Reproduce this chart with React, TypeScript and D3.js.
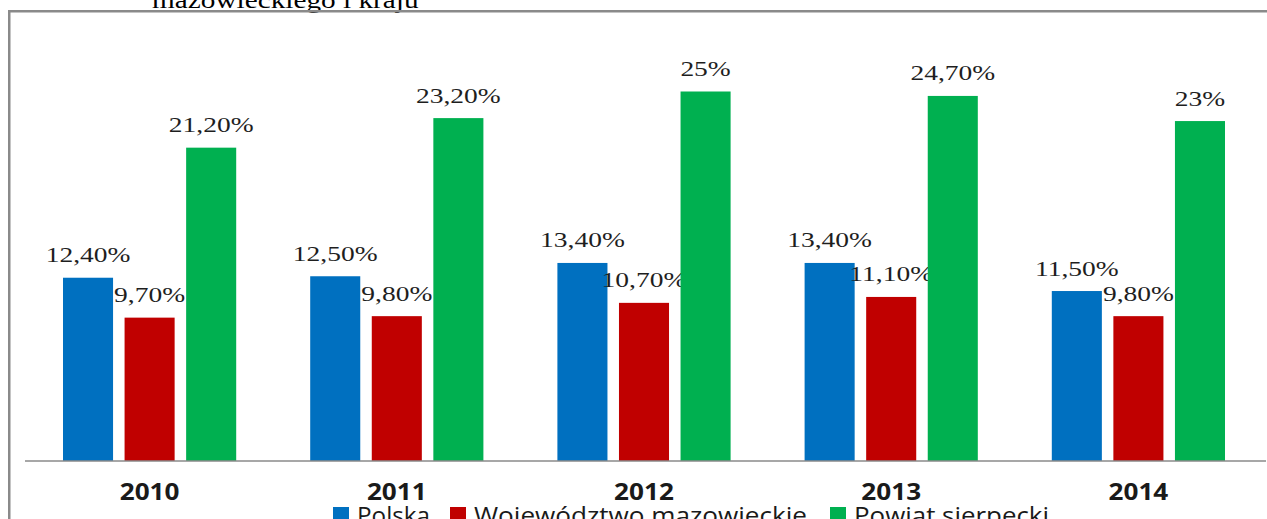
import React from "react";
import * as d3 from "d3";

const years = ["2010", "2011", "2012", "2013", "2014"];
const seriesNames = ["Polska", "Województwo mazowieckie", "Powiat sierpecki"];
const polska = [12.4, 12.5, 13.4, 13.4, 11.5];
const mazowieckie = [9.7, 9.8, 10.7, 11.1, 9.8];
const sierpecki = [21.2, 23.2, 25, 24.7, 23];
const colors = ["#0070C0", "#C00000", "#00B050"];
const titleLine = "mazowieckiego i kraju";

const W = 1267;
const H = 519;

function fmt(v: number): string {
  if (v % 1 === 0) return `${v}%`;
  return v.toFixed(2).replace(".", ",") + "%";
}

const serif = "'Liberation Serif', 'Times New Roman', serif";
const sans = "'Open Sans', sans-serif";

// legend layout (square x, text length)
const legendLayout = [
  { sx: 333, len: 73 },
  { sx: 450, len: 333 },
  { sx: 830, len: 195 },
];

export default function App() {
  const seriesVals = [polska, mazowieckie, sierpecki];
  const x0 = d3.scaleBand<string>().domain(years).range([26, 1262]).paddingInner(0).paddingOuter(0);
  const x1 = d3
    .scaleBand<number>()
    .domain([0, 1, 2])
    .range([37, x0.bandwidth() - 37])
    .paddingInner(0.187)
    .paddingOuter(0);
  const y = d3.scaleLinear().domain([0, 25]).range([461, 91.5]);
  const stretch = 1.09;

  return (
    <svg
      width={W}
      height={H}
      style={{ position: "absolute", left: 0, top: 0, display: "block" }}
    >
      <rect x={0} y={0} width={W} height={H} fill="#ffffff" />
      <text
        transform={`translate(152,8) scale(1.22,1)`}
        fontFamily={serif}
        fontSize={24}
        fill="#000"
      >
        {titleLine}
      </text>
      <rect x={9.25} y={11.25} width={1400} height={700} fill="none" stroke="#8a8a8a" strokeWidth={2.5} />

      {years.map((yr, gi) => (
        <g key={yr} transform={`translate(${x0(yr)},0)`}>
          {seriesVals.map((vals, si) => {
            const v = vals[gi];
            const bx = x1(si)!;
            const bw = x1.bandwidth();
            return (
              <g key={si}>
                <rect x={bx} y={y(v)} width={bw} height={y(0) - y(v)} fill={colors[si]} />
                <text
                  transform={`translate(${bx + bw / 2},${y(v) - 15.5}) scale(1.25,1)`}
                  textAnchor="middle"
                  fontFamily={serif}
                  fontSize={22}
                  fill="#1e1e1e"
                >
                  {fmt(v)}
                </text>
              </g>
            );
          })}
          <text
            transform={`translate(${x0.bandwidth() / 2},500) scale(${stretch},1)`}
            textAnchor="middle"
            fontFamily={sans}
            fontWeight="bold"
            fontSize={24}
            fill="#1a1a1a"
          >
            {yr}
          </text>
        </g>
      ))}

      <line x1={25} x2={1266} y1={461} y2={461} stroke="#8a8a8a" strokeWidth={1.5} />

      {seriesNames.map((name, i) => (
        <g key={name}>
          <rect x={legendLayout[i].sx} y={507} width={16} height={16} fill={colors[i]} />
          <text
            x={legendLayout[i].sx + 24}
            y={524}
            textLength={legendLayout[i].len}
            lengthAdjust="spacingAndGlyphs"
            fontFamily={sans}
            fontSize={24}
            fill="#1a1a1a"
          >
            {name}
          </text>
        </g>
      ))}
    </svg>
  );
}
